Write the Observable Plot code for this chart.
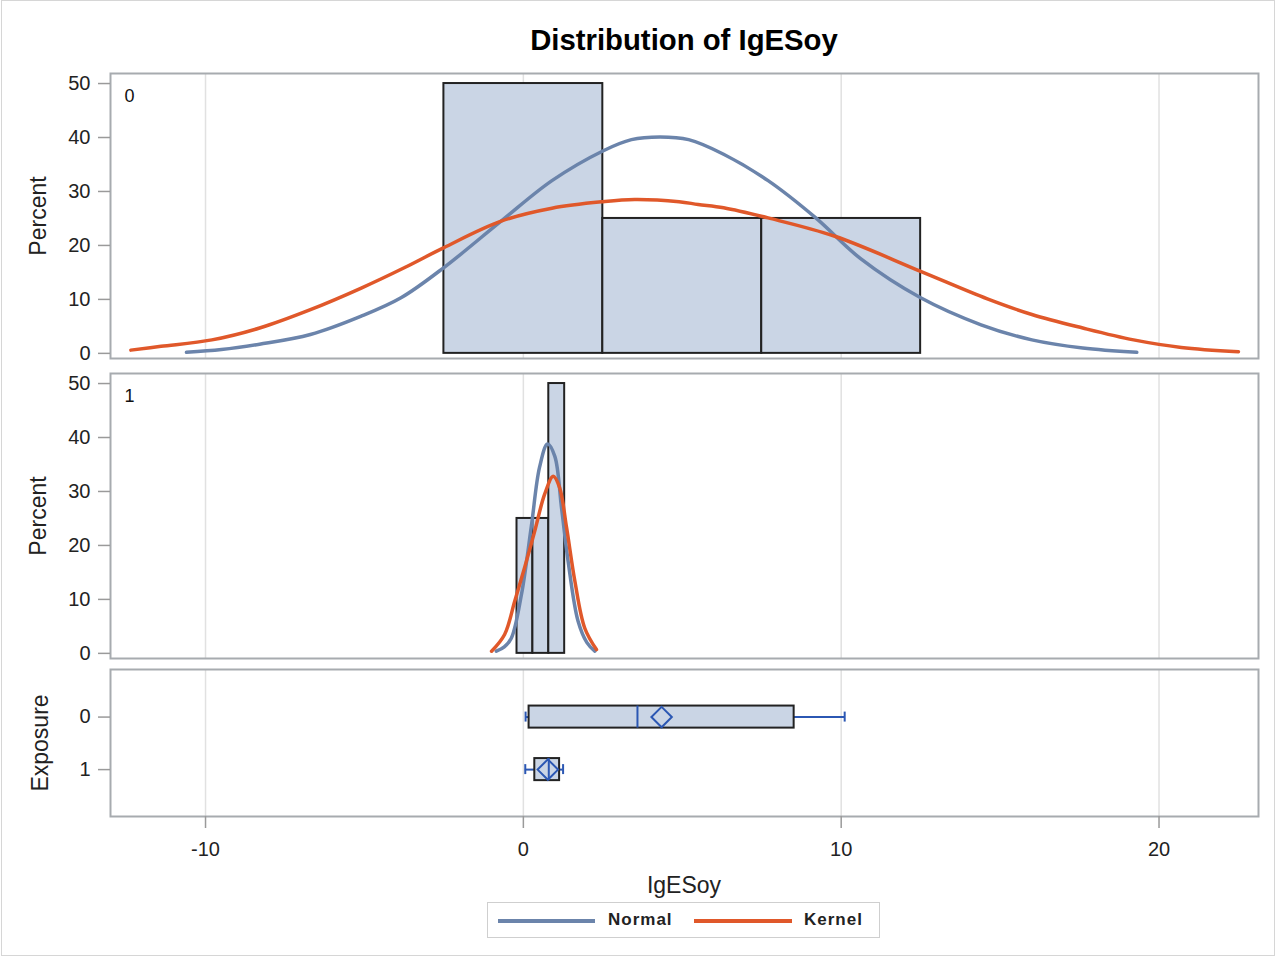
<!DOCTYPE html>
<html>
<head>
<meta charset="utf-8">
<script src="https://cdn.jsdelivr.net/npm/d3@7"></script>
<script src="https://cdn.jsdelivr.net/npm/@observablehq/plot@0.6"></script>
<style>
  body { margin: 0; background: #fff; font-family: "Liberation Sans", Arial, sans-serif; }
  #root { position: relative; width: 1276px; height: 957px; overflow: hidden; background: #fff; }
  #outer { position: absolute; left: 1px; top: 0px; width: 1272px; height: 954px; border: 1px solid #d6d6d6; }
  .abs { position: absolute; white-space: nowrap; }
  #title { left: 684px; top: 25px; transform: translateX(-50%); font-size: 29.3px; line-height: 29px; font-weight: bold; color: #000; }
  #xlabel { left: 684px; top: 874px; transform: translateX(-50%); font-size: 23px; line-height: 23px; color: #222; }
  #legend { left: 487px; top: 902px; width: 391px; height: 34px; border: 1px solid #cfcfcf; }
  .lline { position: absolute; height: 4px; top: 919px; }
  .ltext { position: absolute; top: 911px; font-size: 17px; line-height: 17px; font-weight: bold; letter-spacing: 1px; color: #222; }
  svg { position: absolute; left: 0; }
</style>
</head>
<body>
<div id="root">
  <div id="outer"></div>
  <div id="title" class="abs">Distribution of IgESoy</div>
  <div id="xlabel" class="abs">IgESoy</div>
  <div id="legend" class="abs"></div>
  <div class="lline" style="left:498px;width:97px;background:#6b84ab"></div>
  <div class="ltext" style="left:608px">Normal</div>
  <div class="lline" style="left:694px;width:98px;background:#e0582a"></div>
  <div class="ltext" style="left:804px">Kernel</div>
</div>
<script>
// ---- data ----
const xTicks = [-10, 0, 10, 20];
const pctTicks = [0, 10, 20, 30, 40, 50];
const groups = ["0", "1"];

// Histogram, Exposure = 0
const hist0Lo = [-2.5, 2.5, 7.5];
const hist0Hi = [2.5, 7.5, 12.5];
const hist0Pct = [50, 25, 25];
// Histogram, Exposure = 1
const hist1Lo = [-0.2, 0.3, 0.8];
const hist1Hi = [0.3, 0.8, 1.3];
const hist1Pct = [25, 25, 50];

// Normal curve, Exposure = 0
const normal0X = [-10.6, -9.5, -8.3, -6.7, -5.1, -3.85, -2.5, -0.7, 0.9, 2.5, 3.4, 4.3, 5.2, 6.3, 7.7, 9.2, 10.6, 12.5, 14.4, 16.0, 17.6, 19.3];
const normal0Y = [0.2, 0.7, 1.7, 3.5, 6.9, 10.3, 15.9, 24.5, 32.0, 37.5, 39.6, 40.1, 39.6, 36.9, 32.0, 25.1, 17.6, 10.3, 5.3, 2.5, 1.0, 0.2];
// Kernel curve, Exposure = 0
const kernel0X = [-12.35, -11.4, -9.8, -8.3, -6.7, -5.1, -3.7, -2.5, -0.7, 0.9, 2.5, 3.5, 4.9, 5.5, 6.3, 7.7, 9.8, 12.5, 14.6, 16.0, 17.6, 19.2, 20.7, 22.5];
const kernel0Y = [0.6, 1.3, 2.5, 4.7, 8.1, 12.1, 16.0, 19.6, 24.5, 26.9, 28.1, 28.5, 28.1, 27.6, 27.0, 25.1, 21.7, 15.2, 10.1, 7.2, 4.7, 2.5, 1.1, 0.3];
// Normal curve, Exposure = 1
const normal1X = [-0.85, -0.6, -0.38, -0.06, 0.25, 0.51, 0.76, 0.99, 1.2, 1.41, 1.72, 2.0, 2.25];
const normal1Y = [0.4, 1.2, 2.8, 10.9, 23.5, 34.5, 38.8, 36.5, 27.0, 17.0, 6.0, 2.0, 0.4];
// Kernel curve, Exposure = 1
const kernel1X = [-1.0, -0.59, -0.27, 0.04, 0.36, 0.67, 0.94, 1.14, 1.36, 1.62, 1.93, 2.3];
const kernel1Y = [0.4, 3.5, 9.7, 15.9, 22.7, 29.5, 32.8, 30.7, 23.3, 13.4, 4.7, 0.7];

// Box plot statistics per Exposure group
const boxMin = [0.07, 0.06];
const boxQ1 = [0.18, 0.36];
const boxMedian = [3.59, 0.8];
const boxQ3 = [8.52, 1.14];
const boxMax = [10.11, 1.25];
const boxMean = [4.35, 0.77];

// ---- styling ----
const FONT = '"Liberation Sans", Arial, sans-serif';
const NORMAL_C = "#6b84ab";
const KERNEL_C = "#e0582a";
const BAR_FILL = "#cad5e5";
const BAR_STROKE = "#222";
const BOX_BLUE = "#2b57b3";
const FRAME_C = "#a7abaf";
const GRID_C = "#e1e1e1";
const xDomain = [-12.99, 23.13];

const zip = (a, b) => a.map((v, i) => ({x: v, y: b[i]}));
const hist = (lo, hi, p) => lo.map((v, i) => ({lo: v, hi: hi[i], pct: p[i]}));
const boxes = groups.map((g, i) => ({
  g: +g, min: boxMin[i], q1: boxQ1[i], med: boxMedian[i], q3: boxQ3[i], max: boxMax[i], mean: boxMean[i]
}));

const style = {fontFamily: FONT, fontSize: "20px", color: "#222", background: "transparent", overflow: "visible"};
const fmt = d => String(d);

function histPanel(bins, normal, kernel, label) {
  return Plot.plot({
    width: 1276, height: 305,
    marginLeft: 110, marginRight: 18, marginTop: 10, marginBottom: 10,
    style,
    x: {domain: xDomain, axis: null},
    y: {domain: [-0.95, 51.86], axis: null},
    marks: [
      Plot.gridX(xTicks, {stroke: GRID_C, strokeOpacity: 1, strokeWidth: 1.5}),
      Plot.rect(bins, {x1: "lo", x2: "hi", y1: 0, y2: "pct", fill: BAR_FILL, stroke: BAR_STROKE, strokeWidth: 2}),
      Plot.line(normal, {x: "x", y: "y", stroke: NORMAL_C, strokeWidth: 3.5, curve: "catmull-rom"}),
      Plot.line(kernel, {x: "x", y: "y", stroke: KERNEL_C, strokeWidth: 3.5, curve: "catmull-rom"}),
      Plot.frame({stroke: FRAME_C, strokeWidth: 2}),
      Plot.axisY(pctTicks, {tickSize: 12, tickPadding: 8, stroke: "#9a9a9a", strokeWidth: 1.5, fontSize: 20, label: null, tickFormat: fmt}),
      Plot.text([label], {text: d => d, frameAnchor: "top-left", dx: 14, dy: 16, textAnchor: "start", fontSize: 18, fill: "#111"}),
      Plot.text(["Percent"], {text: d => d, frameAnchor: "left", dx: -72, rotate: -90, textAnchor: "middle", fontSize: 23, fill: "#222"})
    ]
  });
}

const p1 = histPanel(hist(hist0Lo, hist0Hi, hist0Pct), zip(normal0X, normal0Y), zip(kernel0X, kernel0Y), "0");
const p2 = histPanel(hist(hist1Lo, hist1Hi, hist1Pct), zip(normal1X, normal1Y), zip(kernel1X, kernel1Y), "1");

const BH = 0.21, CAP = 0.095;
const p3 = Plot.plot({
  width: 1276, height: 207,
  marginLeft: 110, marginRight: 18, marginTop: 10, marginBottom: 50,
  style,
  x: {domain: xDomain},
  y: {domain: [1.893, -0.906]},
  marks: [
    Plot.gridX(xTicks, {stroke: GRID_C, strokeOpacity: 1, strokeWidth: 1.5}),
    Plot.ruleY(boxes, {y: "g", x1: "min", x2: "q1", stroke: BOX_BLUE, strokeWidth: 2}),
    Plot.ruleY(boxes, {y: "g", x1: "q3", x2: "max", stroke: BOX_BLUE, strokeWidth: 2}),
    Plot.ruleX(boxes, {x: "min", y1: d => d.g - CAP, y2: d => d.g + CAP, stroke: BOX_BLUE, strokeWidth: 2}),
    Plot.ruleX(boxes, {x: "max", y1: d => d.g - CAP, y2: d => d.g + CAP, stroke: BOX_BLUE, strokeWidth: 2}),
    Plot.rect(boxes, {x1: "q1", x2: "q3", y1: d => d.g - BH, y2: d => d.g + BH, fill: BAR_FILL, stroke: BAR_STROKE, strokeWidth: 2}),
    Plot.ruleX(boxes, {x: "med", y1: d => d.g - BH, y2: d => d.g + BH, stroke: BOX_BLUE, strokeWidth: 2}),
    Plot.dot(boxes, {x: "mean", y: "g", symbol: "diamond2", r: 9.2, stroke: BOX_BLUE, strokeWidth: 2, fill: "none"}),
    Plot.frame({stroke: FRAME_C, strokeWidth: 2}),
    Plot.axisY([0, 1], {tickSize: 12, tickPadding: 8, stroke: "#9a9a9a", strokeWidth: 1.5, fontSize: 20, label: null, tickFormat: fmt}),
    Plot.axisX(xTicks, {tickSize: 12, tickPadding: 13, stroke: "#9a9a9a", strokeWidth: 1.5, fontSize: 20, label: null, tickFormat: fmt}),
    Plot.text(["Exposure"], {text: d => d, frameAnchor: "left", dx: -70, rotate: -90, textAnchor: "middle", fontSize: 23, fill: "#222"})
  ]
});

const root = document.getElementById("root");
p1.style.top = "63px";
p2.style.top = "363px";
p3.style.top = "659px";
root.appendChild(p1);
root.appendChild(p2);
root.appendChild(p3);
</script>
</body>
</html>
